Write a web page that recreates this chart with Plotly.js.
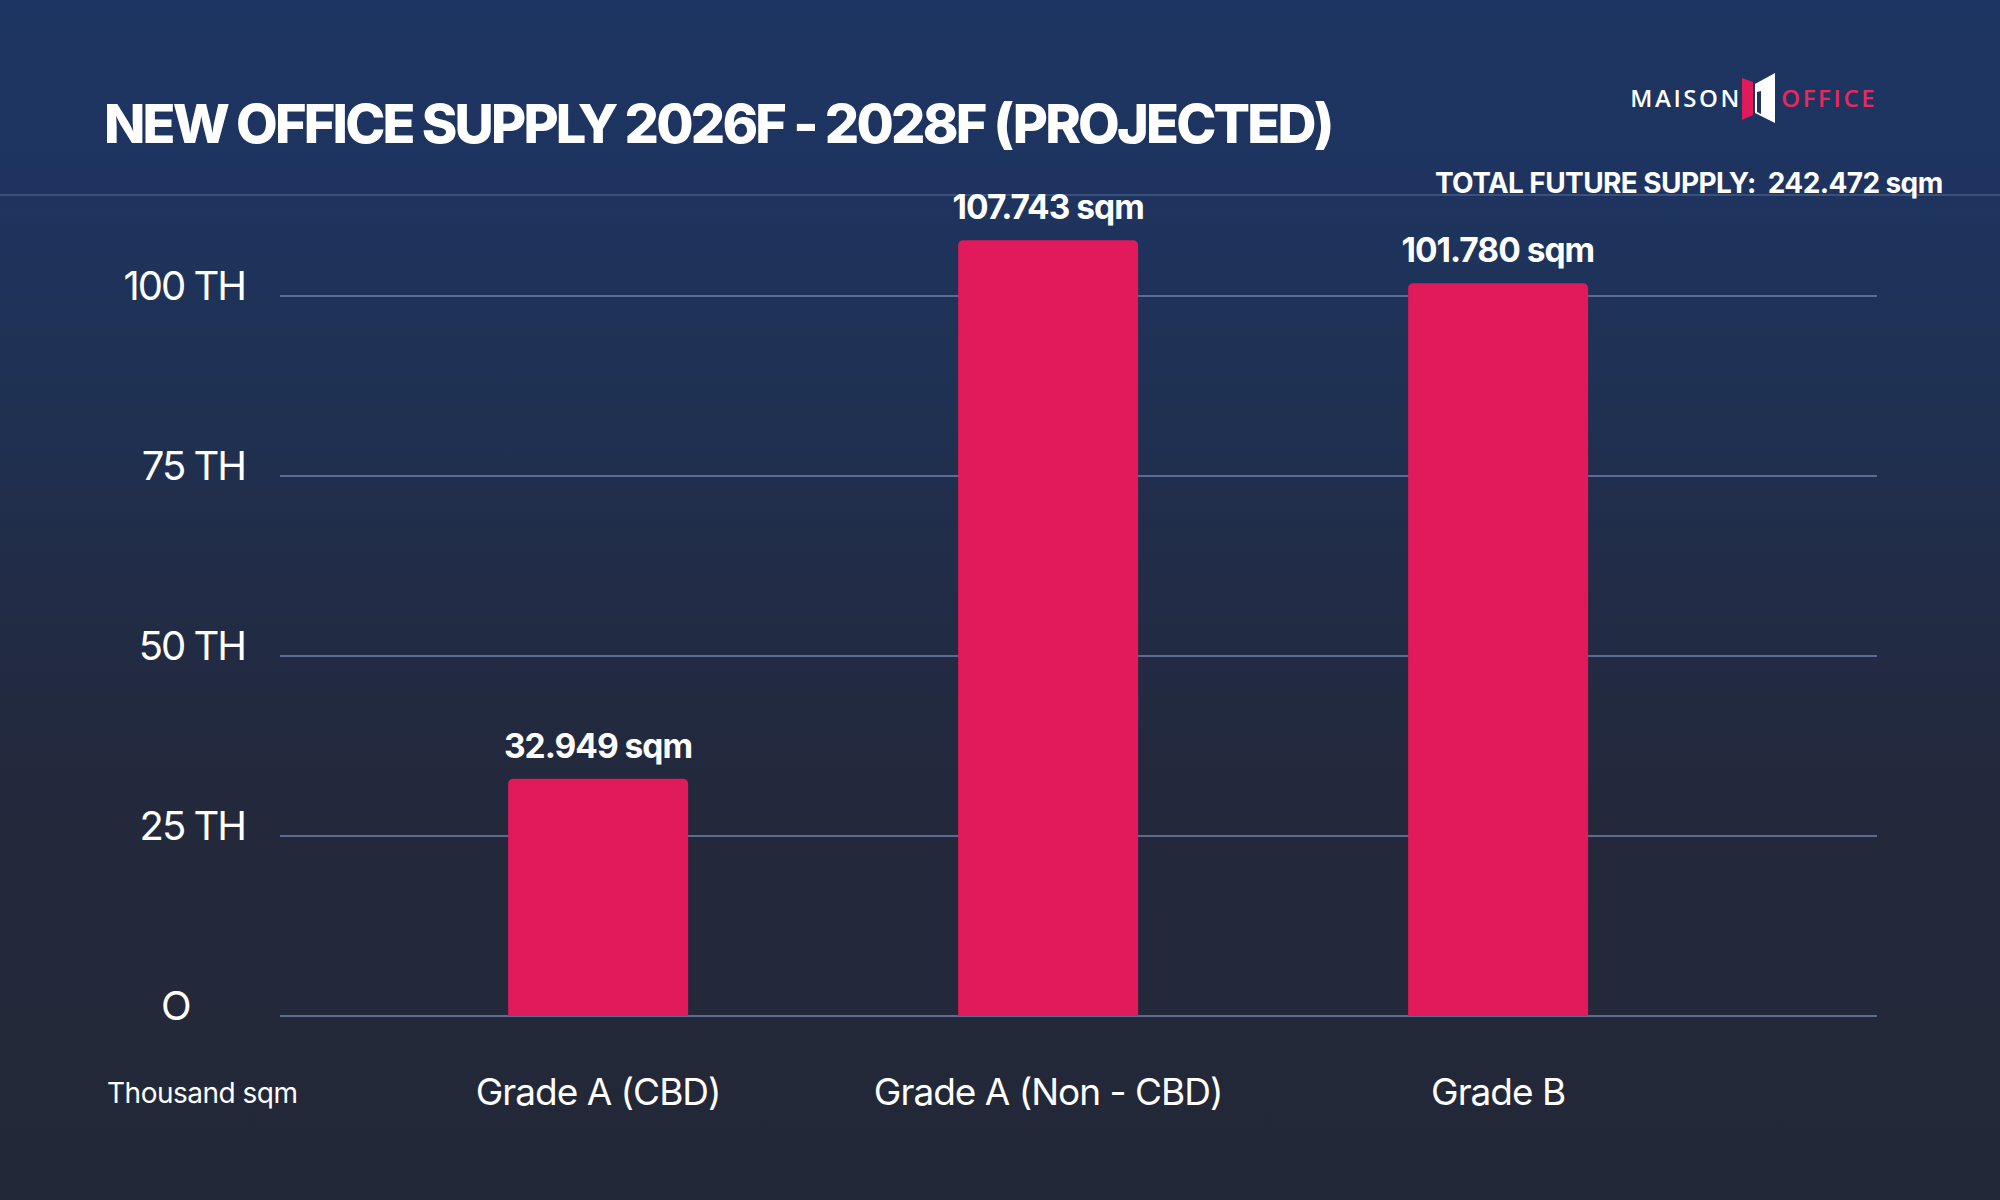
<!DOCTYPE html>
<html>
<head>
<meta charset="utf-8">
<script src="https://cdn.plot.ly/plotly-3.0.1.min.js"></script>
<style>
html,body{margin:0;padding:0;}
body{width:2000px;height:1200px;overflow:hidden;
  background:linear-gradient(to bottom,#1d3562 0%,#1e3460 14%,#1f3255 30%,#212c47 48%,#23293c 66%,#232838 100%);}
#chart{width:2000px;height:1200px;}
.gtitle{letter-spacing:-2.8px;}
.xtick text{letter-spacing:-1px;}
.ytick text{letter-spacing:-2px;}
.annotation text{letter-spacing:-1px;}
.annotation[data-index="3"] text{letter-spacing:-0.6px;}
.annotation[data-index="4"] text,.annotation[data-index="5"] text{letter-spacing:2.6px;}
.annotation[data-index="6"] text{letter-spacing:-0.5px;}
</style>
</head>
<body>
<div id="chart"></div>
<script>
// ---- data ----
const categories = ['Grade A (CBD)', 'Grade A (Non - CBD)', 'Grade B'];
const supply = [32.949, 107.743, 101.780]; // thousand sqm
const yTickVals = [0, 25, 50, 75, 100];
const yTickText = ['O\u00a0\u00a0\u00a0\u00a0\u00a0\u00a0', '25 TH', '50 TH', '75 TH', '100 TH'];
const unitLabel = 'Thousand sqm';
const chartTitle = 'NEW OFFICE SUPPLY 2026F - 2028F (PROJECTED)';

// ---- layout helpers (pixel -> paper) ----
const L = 280, R = 1877, T = 224, B = 1016;
const px = x => (x - L) / (R - L);
const py = y => (B - y) / (B - T);

const total = supply.reduce((a, b) => a + b, 0);
const WHITE = '#ffffff', PINK = '#e01a5b';

const trace = {
  type: 'bar',
  x: categories,
  y: supply,
  width: 0.4,
  marker: {color: PINK},
  hoverinfo: 'none'
};

const annotations = [];
categories.forEach((c, i) => {
  annotations.push({
    x: c, y: supply[i], xref: 'x', yref: 'y',
    text: supply[i].toFixed(3) + ' sqm',
    showarrow: false, yanchor: 'bottom', yshift: 11,
    font: {family: 'Inter', size: 33.5, weight: 700, color: WHITE}
  });
});
annotations.push({
  xref: 'paper', yref: 'paper', x: px(1955), y: py(183),
  xanchor: 'right', yanchor: 'middle', showarrow: false,
  text: 'TOTAL FUTURE SUPPLY:  ' + total.toFixed(3) + ' sqm',
  font: {family: 'Inter', size: 28, weight: 700, color: WHITE}
});
annotations.push({
  xref: 'paper', yref: 'paper', x: px(1736), y: py(98),
  xanchor: 'right', yanchor: 'middle', showarrow: false,
  text: 'MAISON',
  font: {family: 'Open Sans', size: 24, weight: 600, color: WHITE}
});
annotations.push({
  xref: 'paper', yref: 'paper', x: px(1787), y: py(98),
  xanchor: 'left', yanchor: 'middle', showarrow: false,
  text: 'OFFICE',
  font: {family: 'Open Sans', size: 24, weight: 600, color: '#e8285f'}
});
annotations.push({
  xref: 'paper', yref: 'paper', x: px(102), y: py(1093),
  xanchor: 'left', yanchor: 'middle', showarrow: false,
  text: unitLabel,
  font: {family: 'Inter', size: 28, weight: 400, color: WHITE}
});

function path(pts) {
  return 'M ' + pts.map(p => px(p[0]) + ',' + py(p[1])).join(' L ') + ' Z';
}

const shapes = [
  {type: 'line', xref: 'paper', yref: 'paper', x0: px(0), x1: px(2000), y0: py(195), y1: py(195),
   line: {color: 'rgba(140,160,200,0.55)', width: 1}},
  {type: 'path', xref: 'paper', yref: 'paper', path: path([[1742,78],[1753,82],[1753,115],[1742,120]]),
   fillcolor: PINK, line: {width: 0}},
  {type: 'path', xref: 'paper', yref: 'paper', path: path([[1755,84],[1775,73],[1775,123],[1755,113]]),
   fillcolor: WHITE, line: {width: 0}},
  {type: 'path', xref: 'paper', yref: 'paper', path: path([[1757,92],[1761,91],[1761,114],[1757,112]]),
   fillcolor: '#1e3560', line: {width: 0}}
];

const layout = {
  width: 2000, height: 1200,
  paper_bgcolor: 'rgba(0,0,0,0)', plot_bgcolor: 'rgba(0,0,0,0)',
  margin: {l: L, r: 2000 - R, t: T, b: 1200 - B},
  showlegend: false,
  barcornerradius: 5,
  title: {
    text: chartTitle, xref: 'container', yref: 'container',
    x: 104 / 2000, xanchor: 'left', y: 1 - 124 / 1200, yanchor: 'middle',
    font: {family: 'Inter', size: 54, weight: 800, color: WHITE}
  },
  xaxis: {
    type: 'category', range: [-0.707, 2.842],
    showgrid: false, zeroline: false, showline: false, ticks: '',
    ticklabelstandoff: 51,
    tickfont: {family: 'Inter', size: 37, weight: 400, color: WHITE}
  },
  yaxis: {
    range: [0, 110], tickvals: yTickVals, ticktext: yTickText,
    showgrid: true, gridcolor: '#5a6c93', gridwidth: 1.5,
    zeroline: true, zerolinecolor: '#5a6c93', zerolinewidth: 1.5,
    showline: false, ticks: '', ticklabelstandoff: 34, ticklabelshift: -10,
    tickfont: {family: 'Inter', size: 40, weight: 400, color: WHITE}
  },
  annotations: annotations,
  shapes: shapes
};

Plotly.newPlot('chart', [trace], layout, {staticPlot: true, displayModeBar: false});
</script>
</body>
</html>
